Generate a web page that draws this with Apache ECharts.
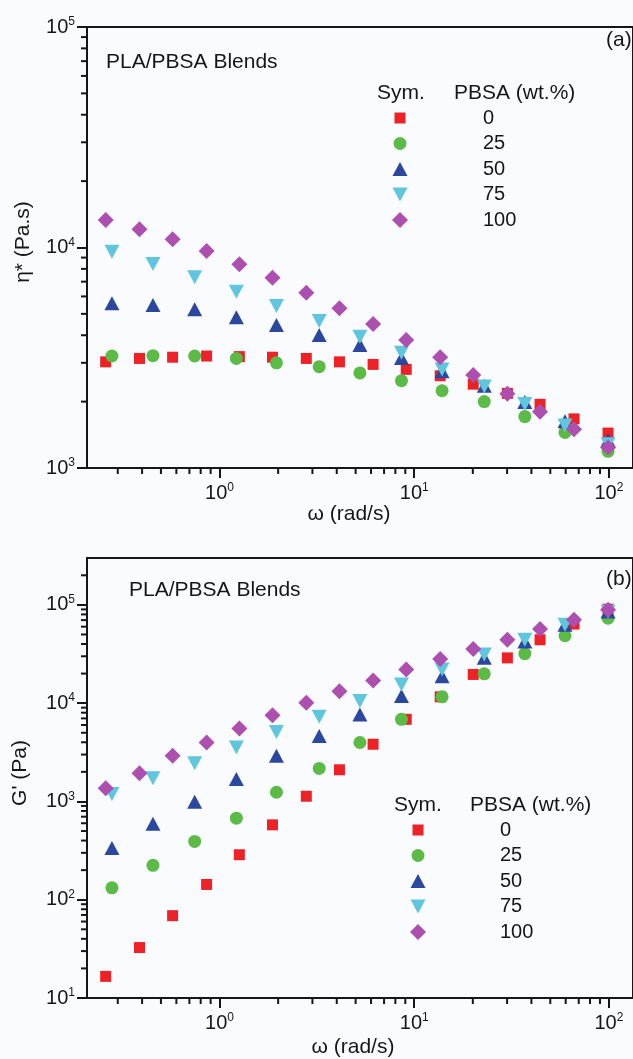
<!DOCTYPE html>
<html><head><meta charset="utf-8">
<script src="https://cdn.jsdelivr.net/npm/echarts@6/dist/echarts.min.js"></script>
<style>html,body{margin:0;padding:0;background:#fafbfe;} #c{width:633px;height:1059px;}</style>
</head><body><div id="c"></div>
<script>
// ---- data ----
const seriesNames = ['0', '25', '50', '75', '100'];
// frequencies (rad/s)
const omegaA = [0.26, 0.388, 0.574, 0.858, 1.264, 1.87, 2.79, 4.13, 6.15, 9.1, 13.6, 20.1, 30.1, 44.3, 66.2, 99]; // PBSA 0 and 100
const omegaB = [0.28, 0.455, 0.745, 1.22, 1.96, 3.25, 5.26, 8.6, 13.9, 22.9, 37, 59.5, 99];                      // PBSA 25, 50, 75
// complex viscosity eta* (Pa.s)
const eta0   = [3030, 3140, 3180, 3220, 3200, 3180, 3140, 3030, 2950, 2800, 2620, 2400, 2180, 1945, 1670, 1440];
const eta25  = [3220, 3230, 3220, 3140, 3000, 2880, 2700, 2490, 2240, 2000, 1710, 1450, 1190];
const eta50  = [5580, 5490, 5250, 4830, 4450, 4010, 3610, 3150, 2750, 2360, 1990, 1630, 1340];
const eta75  = [9570, 8420, 7330, 6300, 5430, 4640, 3940, 3330, 2800, 2340, 1950, 1560, 1280];
const eta100 = [13340, 12090, 10890, 9640, 8390, 7300, 6240, 5300, 4500, 3810, 3180, 2640, 2170, 1800, 1500, 1240];
// storage modulus G' (Pa)
const g0   = [16.6, 32.6, 68.8, 143, 287, 578, 1130, 2100, 3820, 6850, 11600, 19600, 28900, 44200, 63800, 90500];
const g25  = [132, 224, 392, 676, 1240, 2170, 3980, 6850, 11600, 19900, 31900, 48500, 73300];
const g50  = [336, 592, 995, 1690, 2910, 4640, 7690, 11800, 18800, 28900, 42500, 62700, 85500];
const g75  = [1190, 1720, 2450, 3540, 5090, 7290, 10500, 15500, 22000, 31200, 44200, 62700, 85000];
const g100 = [1360, 1940, 2910, 3980, 5510, 7520, 10100, 13250, 17000, 22000, 28200, 35600, 44200, 56800, 70500, 89000];
// ticks
const xMajor = [1, 10, 100];
const yMajorTop = [1e3, 1e4, 1e5];
const yMajorBottom = [1e1, 1e2, 1e3, 1e4, 1e5];
const panelLabels = ['(a)', '(b)'];
const titleText = 'PLA/PBSA Blends';

// ---- style ----
const INK = '#161616';
const FONT = '"Liberation Sans", Arial, Helvetica, sans-serif';
const colors = ['#ec2227', '#5cba46', '#2c479e', '#5fc6dd', '#ad4fae'];
const symbols = ['rect', 'circle', 'triangle', 'triangle', 'diamond'];
const rotates = [0, 0, 0, 180, 0];
const sizes = [[11, 11], 13, [15, 14], [15, 14], [16, 16]];
const legendIcons = [
  'path://M0,0M16,16M2.5,2.5h11v11h-11z',
  'path://M0,0M16,16M1.5,8a6.5,6.5 0 1,0 13,0a6.5,6.5 0 1,0 -13,0z',
  'path://M0,0M16,16M0.5,15L8,1L15.5,15z',
  'path://M0,0M16,16M0.5,1L15.5,1L8,15z',
  'path://M8,0L16,8L8,16L0,8z'
];

function minorTicks(lo, hi, min, max) {
  const out = [];
  for (let d = lo; d < hi; d *= 10) for (let k = 2; k <= 9; k++) {
    const v = +(k * d).toPrecision(3);
    if (v > min && v < max) out.push(v);
  }
  return out;
}
const X_MIN = 0.2085, X_MAX = 133;
const Y_TOP = [1e3, 1e5], Y_BOT = [10, 3e5];
const RICH = {
  b: { fontSize: 20, fontFamily: FONT, color: INK, lineHeight: 22 },
  s: { fontSize: 12, fontFamily: FONT, color: INK, lineHeight: 12, verticalAlign: 'top' }
};

function mainAxis(grid, min, max, majors, isX, name, gap, pad) {
  return {
    type: 'log', logBase: 10, gridIndex: grid, min: min, max: max, position: isX ? 'bottom' : 'left',
    axisLine: { show: true, onZero: false, lineStyle: { color: INK, width: 2 } },
    axisTick: { show: true, length: 10, customValues: majors, lineStyle: { color: INK, width: 2 } },
    axisLabel: {
      show: true, customValues: majors, margin: isX ? 14 : 12,
      formatter: v => '{b|10}{s|' + Math.round(Math.log10(v)) + '}', rich: RICH
    },
    splitLine: { show: false }, minorTick: { show: false },
    name: name, nameLocation: 'middle', nameGap: gap,
    nameTextStyle: { fontSize: 21, fontFamily: FONT, color: INK, padding: pad }
  };
}

const topData = [[omegaA, eta0], [omegaB, eta25], [omegaB, eta50], [omegaB, eta75], [omegaA, eta100]];
const botData = [[omegaA, g0], [omegaB, g25], [omegaB, g50], [omegaB, g75], [omegaA, g100]];
const series = [];
[topData, botData].forEach((set, p) => {
  set.forEach((pair, i) => {
    series.push({
      type: 'scatter', name: seriesNames[i], xAxisIndex: p, yAxisIndex: p,
      symbol: symbols[i], symbolRotate: rotates[i], symbolSize: sizes[i],
      itemStyle: { color: colors[i], opacity: 1 },
      data: pair[0].map((w, k) => [w, pair[1][k]]),
      emphasis: { disabled: true }, z: 2 + i
    });
  });
});

function legend(left, top, pad) {
  return {
    data: seriesNames.map((n, i) => ({ name: n, icon: legendIcons[i] })),
    orient: 'vertical', left: left, top: top, padding: 0,
    itemWidth: 16, itemHeight: 16, itemGap: 5.5, selectedMode: false,
    textStyle: { fontSize: 20, fontFamily: FONT, color: INK, lineHeight: 20, padding: [0, 0, 0, pad] }
  };
}
function txt(x, y, s) {
  return { type: 'text', x: x, y: y, style: { text: s, font: '21px ' + FONT, fill: INK, align: 'left', verticalAlign: 'middle' } };
}
const texts = [
  txt(106, 62, titleText), txt(606, 40, panelLabels[0]),
  txt(377, 93, 'Sym.'), txt(454, 93, 'PBSA (wt.%)'),
  txt(129, 590, titleText), txt(606, 579, panelLabels[1]),
  txt(394, 805, 'Sym.'), txt(470, 805, 'PBSA (wt.%)')
];

const chart = echarts.init(document.getElementById('c'), null, { renderer: 'canvas' });
chart.setOption({
  backgroundColor: '#fafbfe',
  animation: false,
  grid: [
    { left: 87, top: 27, right: -6, height: 441, show: true, borderColor: INK, borderWidth: 2, backgroundColor: 'transparent' },
    { left: 87, top: 558, right: -6, height: 442, show: true, borderColor: INK, borderWidth: 2, backgroundColor: 'transparent' }
  ],
  xAxis: [
    mainAxis(0, X_MIN, X_MAX, xMajor, true, 'ω (rad/s)', 36, [0, 22, 0, 0]),
    mainAxis(1, X_MIN, X_MAX, xMajor, true, 'ω (rad/s)', 39, [0, 14, 0, 0])
  ],
  yAxis: [
    mainAxis(0, Y_TOP[0], Y_TOP[1], yMajorTop, false, 'η* (Pa.s)', 53, [0, 0, 0, 11]),
    mainAxis(1, Y_BOT[0], Y_BOT[1], yMajorBottom, false, "G' (Pa)", 56, [0, 0, 0, 10])
  ],
  legend: [legend(392, 108, 70), legend(410, 820, 69)],
  graphic: { elements: texts },
  series: series
});

// minor log ticks (2..9 per decade), placed through the axes' own scales
const tickEls = [];
const TL = 6;
function px(finder, v) {
  const r = chart.convertToPixel(finder, v);
  return Array.isArray(r) ? r[0] : r;
}
[0, 1].forEach(p => {
  const yRange = p === 0 ? Y_TOP : Y_BOT;
  const axisY = chart.convertToPixel({ gridIndex: p }, [1, yRange[0]])[1];
  const axisX = chart.convertToPixel({ gridIndex: p }, [X_MIN, yRange[0]])[0];
  minorTicks(0.1, 1000, X_MIN, X_MAX).forEach(v => {
    const x = chart.convertToPixel({ gridIndex: p }, [v, yRange[0]])[0];
    tickEls.push({ type: 'line', silent: true, z: 100, shape: { x1: x, y1: axisY, x2: x, y2: axisY + TL }, style: { stroke: INK, lineWidth: 2 } });
  });
  minorTicks(yRange[0] / 10, yRange[1] * 10, yRange[0], yRange[1]).forEach(v => {
    const y = chart.convertToPixel({ gridIndex: p }, [1, v])[1];
    tickEls.push({ type: 'line', silent: true, z: 100, shape: { x1: axisX, y1: y, x2: axisX - TL, y2: y }, style: { stroke: INK, lineWidth: 2 } });
  });
});
chart.setOption({ graphic: { elements: texts.concat(tickEls) } });
</script></body></html>
